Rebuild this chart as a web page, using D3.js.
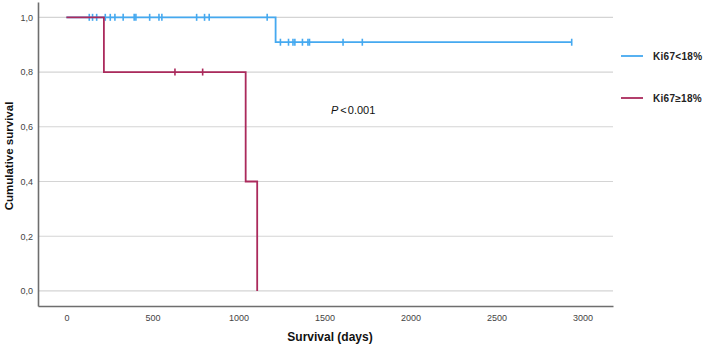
<!DOCTYPE html>
<html>
<head>
<meta charset="utf-8">
<script src="https://cdn.jsdelivr.net/npm/d3@7"></script>
<style>
	body { margin: 0; background: #fff; }
	svg { display: block; font-family: "Liberation Sans", Arial, sans-serif; }
</style>
</head>
<body>
<svg id="chart" width="709" height="345"></svg>
<script>
// data
var groups = ["Ki67<18%", "Ki67\u226518%"];
var colors = ["#45a9f0", "#ab2a5c"];

// Ki67 < 18%
var lowStepTimes = [0, 1216, 2937];
var lowStepSurv = [1.0, 0.909, 0.909];
var lowCensor = [133, 152, 176, 226, 255, 282, 330, 394, 404, 484, 538, 555, 757, 803, 830, 1167,
	1244, 1291, 1317, 1328, 1372, 1404, 1413, 1608, 1720, 2937];

// Ki67 >= 18%
var highStepTimes = [0, 218, 1042, 1109];
var highStepSurv = [1.0, 0.8, 0.4, 0.0];
var highCensor = [631, 792];

var xTicks = [0, 500, 1000, 1500, 2000, 2500, 3000];
var yTicks = [0, 0.2, 0.4, 0.6, 0.8, 1.0];

// layout
var svg = d3.select("#chart");
var x = d3.scaleLinear().domain([-165, 3177]).range([38, 613]);
var y = d3.scaleLinear().domain([-0.055, 1.056]).range([306, 2]);

// gridlines
svg.append("g").selectAll("line")
	.data(yTicks)
	.enter().append("line")
		.attr("x1", 38).attr("x2", 613)
		.attr("y1", d => y(d)).attr("y2", d => y(d))
		.attr("stroke", "#d4d4d4")
		.attr("stroke-width", 1.2);

// axes
var xAxis = d3.axisBottom(x).tickValues(xTicks).tickSize(0).tickPadding(9)
	.tickFormat(d3.format("d"));
var yAxis = d3.axisLeft(y).tickValues(yTicks).tickSize(0).tickPadding(5)
	.tickFormat(d => d3.format(".1f")(d).replace(".", ","));

var gx = svg.append("g")
	.attr("transform", "translate(0,306)")
	.call(xAxis);
var gy = svg.append("g")
	.attr("transform", "translate(38,0)")
	.call(yAxis);

[gx, gy].forEach(function(g) {
	g.select(".domain").attr("stroke", "#6e6e6e").attr("stroke-width", 1.6);
	g.selectAll("text").attr("fill", "#444").attr("font-size", "9px");
});

// survival curves
function survAt(times, surv, t) {
	var s = surv[0];
	for (var i = 0; i < times.length; i++) {
		if (times[i] <= t) s = surv[i];
	}
	return s;
}

var line = d3.line()
	.x(d => x(d[0]))
	.y(d => y(d[1]))
	.curve(d3.curveStepAfter);

var curves = [
	{times: lowStepTimes, surv: lowStepSurv, censor: lowCensor, color: colors[0]},
	{times: highStepTimes, surv: highStepSurv, censor: highCensor, color: colors[1]}
];

curves.forEach(function(c) {
	var pts = c.times.map((t, i) => [t, c.surv[i]]);
	svg.append("path")
		.datum(pts)
		.attr("fill", "none")
		.attr("stroke", c.color)
		.attr("stroke-width", 1.8)
		.attr("d", line);

	svg.append("g").selectAll("line")
		.data(c.censor)
		.enter().append("line")
			.attr("x1", d => x(d)).attr("x2", d => x(d))
			.attr("y1", d => y(survAt(c.times, c.surv, d)) - 3.5)
			.attr("y2", d => y(survAt(c.times, c.surv, d)) + 3.5)
			.attr("stroke", c.color)
			.attr("stroke-width", 1.6);
});

// p value
var ptxt = svg.append("text")
	.attr("x", 331).attr("y", 114)
	.attr("font-size", "11px")
	.attr("fill", "#111");
ptxt.append("tspan").attr("font-style", "italic").text("P");
ptxt.append("tspan").attr("dx", 2).text("<");
ptxt.append("tspan").attr("dx", 1).text("0.001");

// legend
var legend = svg.append("g").selectAll("g")
	.data(groups)
	.enter().append("g")
		.attr("transform", (d, i) => "translate(0," + (56 + i * 42) + ")");
legend.append("line")
	.attr("x1", 621).attr("x2", 643)
	.attr("stroke", (d, i) => colors[i])
	.attr("stroke-width", 1.8);
legend.append("text")
	.attr("x", 653).attr("y", 4)
	.attr("font-size", "10px")
	.attr("font-weight", "bold")
	.attr("fill", "#222")
	.attr("letter-spacing", "0.3px")
	.text(d => d);

// axis titles
svg.append("text")
	.attr("x", 330).attr("y", 341)
	.attr("text-anchor", "middle")
	.attr("font-size", "12px")
	.attr("font-weight", "bold")
	.attr("fill", "#111")
	.text("Survival (days)");

svg.append("text")
	.attr("transform", "translate(13,156) rotate(-90)")
	.attr("text-anchor", "middle")
	.attr("font-size", "11.5px")
	.attr("font-weight", "bold")
	.attr("fill", "#111")
	.text("Cumulative survival");
</script>
</body>
</html>
